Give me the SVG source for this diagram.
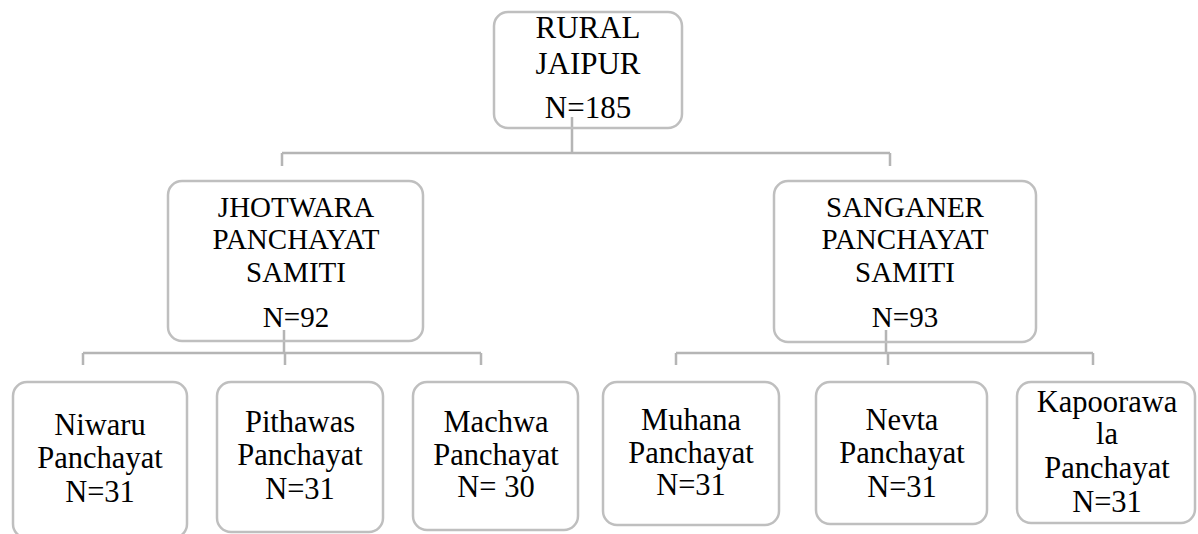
<svg xmlns="http://www.w3.org/2000/svg" width="1198" height="534" viewBox="0 0 1198 534">
<style>
.box{fill:none;stroke:#BFBFBF;stroke-width:2.5}
.con{fill:none;stroke:#B5B5B5;stroke-width:2.5}
text{fill:#000;text-anchor:middle;font-family:'Liberation Serif','Tinos','Times New Roman','DejaVu Serif','Noto Serif','FreeSerif',serif}
.t1{font-size:31px}
.t2{font-size:29px}
.t3{font-size:30.5px}
</style>
<rect width="1198" height="534" fill="#fff"/>
<g id="connectors">
<path class="con" d="M572 117 V153 M282 153 H890 M282 153 V166 M890 153 V166"/>
<path class="con" d="M284 330 V353 M83 353 H481 M83 353 V365 M285 353 V365 M481 353 V365"/>
<path class="con" d="M886 330 V353 M676 353 H1093 M676 353 V365 M888 353 V365 M1093 353 V365"/>
</g>
<g id="root">
<rect class="box" x="494" y="12" width="188" height="116" rx="14"/>
<text class="t1" x="588" y="38">RURAL</text>
<text class="t1" x="588" y="74">JAIPUR</text>
<text class="t1" x="588" y="118">N=185</text>
</g>
<g id="jhotwara">
<rect class="box" x="168" y="181" width="255" height="160" rx="14"/>
<text class="t2" x="296" y="217">JHOTWARA</text>
<text class="t2" x="296" y="249">PANCHAYAT</text>
<text class="t2" x="296" y="282">SAMITI</text>
<text class="t2" x="296" y="327">N=92</text>
</g>
<g id="sanganer">
<rect class="box" x="774" y="181" width="262" height="161" rx="14"/>
<text class="t2" x="905" y="217">SANGANER</text>
<text class="t2" x="905" y="249">PANCHAYAT</text>
<text class="t2" x="905" y="282">SAMITI</text>
<text class="t2" x="905" y="327">N=93</text>
</g>
<g id="niwaru">
<rect class="box" x="13" y="382" width="174" height="156" rx="14"/>
<text class="t3" x="100" y="435">Niwaru</text>
<text class="t3" x="100" y="468">Panchayat</text>
<text class="t3" x="100" y="502">N=31</text>
</g>
<g id="pithawas">
<rect class="box" x="217" y="382" width="166" height="150" rx="14"/>
<text class="t3" x="300" y="432">Pithawas</text>
<text class="t3" x="300" y="465">Panchayat</text>
<text class="t3" x="300" y="499">N=31</text>
</g>
<g id="machwa">
<rect class="box" x="413" y="382" width="165" height="148" rx="14"/>
<text class="t3" x="496" y="432">Machwa</text>
<text class="t3" x="496" y="465">Panchayat</text>
<text class="t3" x="496" y="497">N= 30</text>
</g>
<g id="muhana">
<rect class="box" x="603" y="382" width="176" height="143" rx="14"/>
<text class="t3" x="691" y="430">Muhana</text>
<text class="t3" x="691" y="463">Panchayat</text>
<text class="t3" x="691" y="495">N=31</text>
</g>
<g id="nevta">
<rect class="box" x="816" y="382" width="171" height="142" rx="14"/>
<text class="t3" x="902" y="430">Nevta</text>
<text class="t3" x="902" y="463">Panchayat</text>
<text class="t3" x="902" y="497">N=31</text>
</g>
<g id="kapoorawala">
<rect class="box" x="1017" y="382" width="178" height="141" rx="14"/>
<text class="t3" x="1107" y="412">Kapoorawa</text>
<text class="t3" x="1107" y="444">la</text>
<text class="t3" x="1107" y="478">Panchayat</text>
<text class="t3" x="1107" y="512">N=31</text>
</g>
</svg>
